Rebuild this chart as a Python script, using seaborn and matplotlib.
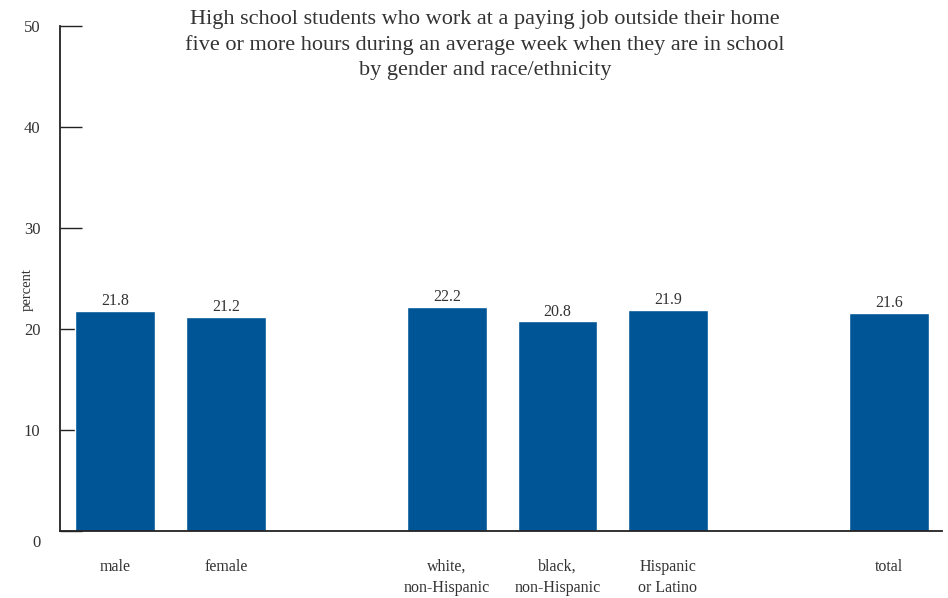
import matplotlib
matplotlib.use("Agg")
import matplotlib.pyplot as plt
import matplotlib.transforms as mtransforms
import seaborn as sns
import pandas as pd

categories = ["male", "female", "white,\nnon-Hispanic", "black,\nnon-Hispanic",
              "Hispanic\nor Latino", "total"]
values = [21.8, 21.2, 22.2, 20.8, 21.9, 21.6]
order = ["male", "female", " ", "white,\nnon-Hispanic", "black,\nnon-Hispanic",
         "Hispanic\nor Latino", "  ", "total"]
yticks = [0, 10, 20, 30, 40, 50]
title = ("High school students who work at a paying job outside their home\n"
         "five or more hours during an average week when they are in school\n"
         "by gender and race/ethnicity")

sns.set_theme(style="white")
plt.rcParams["font.family"] = ["Liberation Serif", "DejaVu Serif"]

df = pd.DataFrame({"cat": categories, "val": values})

fig = plt.figure(figsize=(9.48, 5.98), dpi=100)
ax = fig.add_axes([60/948, 67/598, (942-60)/948, (531-26)/598])
sns.barplot(data=df, x="cat", y="val", order=order, color="#005596",
            saturation=1, width=0.72, ax=ax)

ax.set_ylim(0, 50)
ax.set_xlim(-0.5, 7.48)
ax.set_yticks(yticks)
ax.set_yticklabels([str(t) for t in yticks])
ax.tick_params(axis="y", direction="in", length=16, width=1, color="#222222",
               labelsize=12, labelcolor="#333333", pad=14, left=True)
ax.tick_params(axis="x", length=0, labelsize=11.5, labelcolor="#333333", pad=20)
for lab in ax.get_xticklabels():
    lab.set_verticalalignment("top")
    lab.set_linespacing(1.42)
# shift the 0 label down as in reference
lab0 = ax.get_yticklabels()[0]
lab0.set_transform(lab0.get_transform() + mtransforms.ScaledTranslation(0, -10/100, fig.dpi_scale_trans))

for s in ["top", "right"]:
    ax.spines[s].set_visible(False)
for s in ["left", "bottom"]:
    ax.spines[s].set_color("#222222")
    ax.spines[s].set_linewidth(1.3)

ax.set_xlabel("")
ax.set_ylabel("percent", fontsize=10.5, color="#333333")
ax.yaxis.set_label_coords(-(60-34)/882, 0.478)

for c in ax.containers:
    ax.bar_label(c, fmt="%.1f", padding=1, fontsize=11.5, color="#333333")

fig.text(485/948, 1 - 10/598, title, ha="center", va="top", fontsize=16,
         color="#333333", linespacing=1.42)

fig.savefig("out.png", dpi=100)
